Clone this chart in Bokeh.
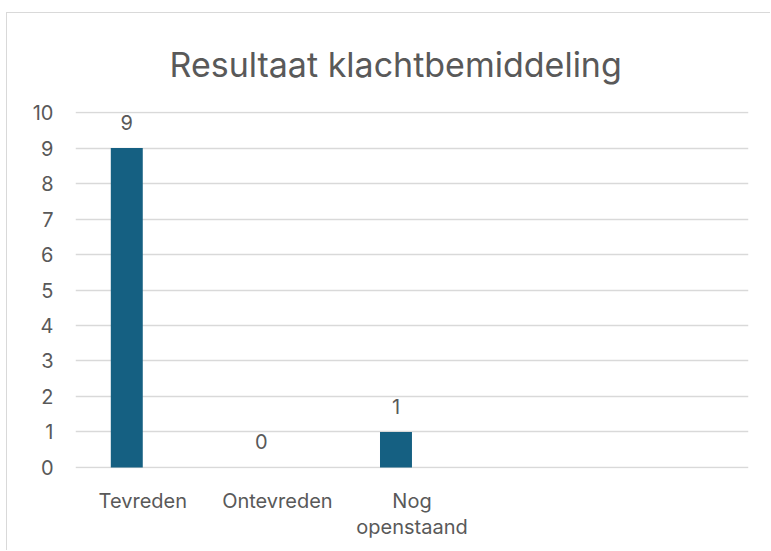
from bokeh.plotting import figure
from bokeh.models import FactorRange, ColumnDataSource, SingleIntervalTicker, Range1d
from bokeh.transform import dodge
from bokeh.core.properties import value
from bokeh.embed import file_html
from bokeh.resources import INLINE

categories = ["Tevreden", "Ontevreden", "Nog\nopenstaand", " ", "  "]
bar_categories = ["Tevreden", "Ontevreden", "Nog\nopenstaand"]
values = [9, 0, 1]
labels = ["9", "0", "1"]

TEXT = "#595959"
GRID = "#d9d9d9"
BAR = "#156082"
FONT = "Inter"

p = figure(x_range=FactorRange(factors=categories, range_padding=0),
           y_range=Range1d(-0.03, 10.03),
           width=764, height=538, output_backend="svg", toolbar_location=None,
           min_border_left=68, min_border_right=23, min_border_top=98, min_border_bottom=83)
p.styles = {"border-left": "1px solid #d9d9d9", "border-top": "1px solid #d9d9d9",
            "margin-top": "12px", "margin-left": "6px"}

src = ColumnDataSource(dict(cat=bar_categories, val=values, lab=labels))
p.vbar(x=dodge("cat", -0.119, range=p.x_range), top="val", width=0.2375, source=src,
       fill_color=BAR, line_color=None)
p.text(x=dodge("cat", -0.119, range=p.x_range), y="val", text="lab", source=src,
       text_align="center", text_baseline="bottom", y_offset=-18,
       text_font=value(FONT), text_font_size="20px", text_color=TEXT)

p.title.text = "Resultaat klachtbemiddeling"
p.title.align = "left"
p.title.offset = 94
p.title.text_font = FONT
p.title.text_font_size = "34px"
p.title.text_font_style = "normal"
p.title.text_color = TEXT
p.title.standoff = 53

p.outline_line_color = None
p.xgrid.grid_line_color = None
p.ygrid.grid_line_color = GRID
p.ygrid.grid_line_width = 1.3

p.yaxis.ticker = SingleIntervalTicker(interval=1)
p.yaxis.axis_line_color = None
p.yaxis.major_tick_line_color = None
p.yaxis.minor_tick_line_color = None
p.yaxis.major_label_text_font = FONT
p.yaxis.major_label_text_font_size = "20px"
p.yaxis.major_label_text_color = TEXT
p.yaxis.major_label_standoff = 16

p.xaxis.axis_line_color = None
p.xaxis.major_tick_line_color = None
p.xaxis.major_label_text_font = FONT
p.xaxis.major_label_text_font_size = "20px"
p.xaxis.major_label_text_color = TEXT
p.xaxis.major_label_standoff = 14
p.xaxis.major_label_text_line_height = 1.1

p.background_fill_color = "white"
p.border_fill_color = "white"

open("out.html", "w").write(file_html(p, INLINE))
